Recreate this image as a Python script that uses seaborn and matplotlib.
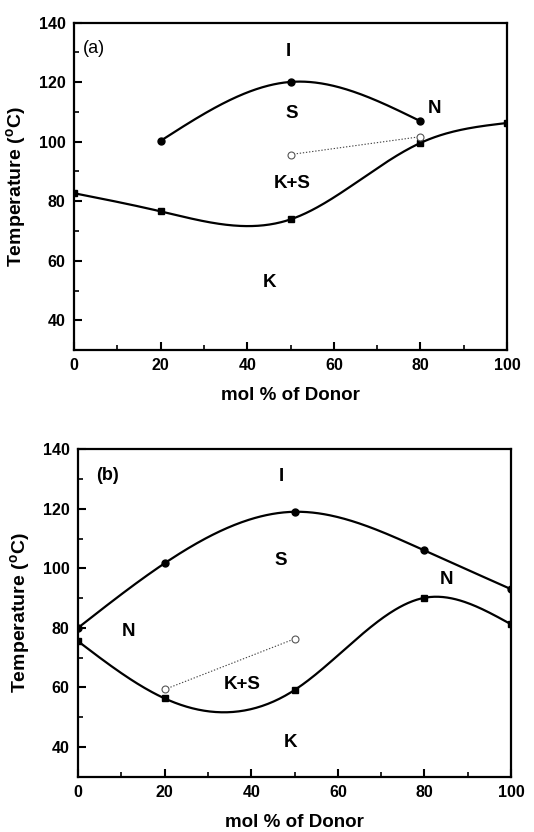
import numpy as np
import pandas as pd
import matplotlib
matplotlib.use("Agg")
import matplotlib.pyplot as plt
from matplotlib.ticker import MultipleLocator
import seaborn as sns

# ---- phase boundary data (mol % of donor vs temperature in degC) ----
a_upper_x = [20, 50, 80]
a_upper_t = [100.3, 120.1, 106.9]
a_lower_x = [0, 20, 50, 80, 100]
a_lower_t = [82.7, 76.6, 73.9, 99.6, 106.3]
a_open_x = [50, 80]
a_open_t = [95.7, 101.7]

b_upper_x = [0, 20, 50, 80, 100]
b_upper_t = [80.0, 101.7, 119.0, 106.0, 93.0]
b_lower_x = [0, 20, 50, 80, 100]
b_lower_t = [75.5, 56.3, 59.1, 90.1, 81.2]
b_open_x = [20, 50]
b_open_t = [59.3, 76.3]

# phase region labels: (text, x, y)
a_labels = [("I", 49.5, 130.2), ("S", 50.3, 109.5), ("N", 83.2, 111.1),
            ("K+S", 50.4, 86.1), ("K", 45.1, 52.7)]
b_labels = [("I", 47.0, 131.0), ("S", 46.9, 102.5), ("N", 85.1, 96.4),
            ("N", 11.6, 78.9), ("K+S", 38.0, 61.1), ("K", 49.1, 41.5)]

x_ticks = [0, 20, 40, 60, 80, 100]
y_ticks = [40, 60, 80, 100, 120, 140]


def natural_spline(x, y, n=300):
    """Natural cubic spline through the given points."""
    x = np.asarray(x, float)
    y = np.asarray(y, float)
    k = len(x)
    h = np.diff(x)
    A = np.zeros((k, k))
    r = np.zeros(k)
    A[0, 0] = A[-1, -1] = 1.0
    for i in range(1, k - 1):
        A[i, i - 1] = h[i - 1]
        A[i, i] = 2 * (h[i - 1] + h[i])
        A[i, i + 1] = h[i]
        r[i] = 6 * ((y[i + 1] - y[i]) / h[i] - (y[i] - y[i - 1]) / h[i - 1])
    M = np.linalg.solve(A, r)
    xs = np.linspace(x[0], x[-1], n)
    idx = np.clip(np.searchsorted(x, xs) - 1, 0, k - 2)
    x0, x1 = x[idx], x[idx + 1]
    hh = x1 - x0
    ys = (M[idx] * (x1 - xs) ** 3 / (6 * hh) + M[idx + 1] * (xs - x0) ** 3 / (6 * hh)
          + (y[idx] / hh - M[idx] * hh / 6) * (x1 - xs)
          + (y[idx + 1] / hh - M[idx + 1] * hh / 6) * (xs - x0))
    return xs, ys


sns.set_style("ticks")
plt.rcParams["font.family"] = ["Liberation Sans", "DejaVu Sans"]
plt.rcParams["font.weight"] = "bold"
plt.rcParams["text.color"] = "black"
plt.rcParams["axes.labelcolor"] = "black"
plt.rcParams["xtick.color"] = "black"
plt.rcParams["ytick.color"] = "black"

fig = plt.figure(figsize=(5.34, 8.32), dpi=100)
ax_a = fig.add_axes([0.1386, 0.5793, 0.8109, 0.3934])
ax_b = fig.add_axes([0.1461, 0.0665, 0.8109, 0.3935])


def draw_panel(ax, tag, tag_weight, upper, lower, opened, labels):
    for (xs, ts), mk, ms in [(upper, "o", 5), (lower, "s", 4.5)]:
        sx, sy = natural_spline(xs, ts)
        sns.lineplot(x=sx, y=sy, ax=ax, color="black", lw=1.6, sort=False,
                     estimator=None)
        ax.plot(xs, ts, ls="none", marker=mk, ms=ms, color="black")
    ox, ot = opened
    sns.lineplot(x=ox, y=ot, ax=ax, color="#444444", lw=0.8, ls=(0, (1.2, 1.6)),
                 estimator=None)
    ax.plot(ox, ot, ls="none", marker="o", ms=5, mfc="white", mec="#555555", mew=0.8)

    for txt, lx, ly in labels:
        ax.text(lx, ly, txt, ha="center", va="center", fontsize=13.5,
                fontweight="bold")
    ax.text(4.5 if tag == "(a)" else 6.7, 131.2, tag, ha="center", va="center",
            fontsize=13, fontweight=tag_weight)

    ax.set_xlim(0, 100)
    ax.set_ylim(30, 140)
    ax.set_xticks(x_ticks)
    ax.set_yticks(y_ticks)
    ax.xaxis.set_minor_locator(MultipleLocator(10))
    ax.yaxis.set_minor_locator(MultipleLocator(10))
    ax.tick_params(which="major", direction="in", length=6, width=1.5,
                   labelsize=11.5, top=False, right=False, pad=6)
    ax.tick_params(which="minor", direction="in", length=3.5, width=1.2,
                   top=False, right=False)
    for lab in ax.get_xticklabels() + ax.get_yticklabels():
        lab.set_fontweight("bold")
    for sp in ax.spines.values():
        sp.set_visible(True)
        sp.set_linewidth(1.6)
        sp.set_color("black")
    ax.set_xlabel("mol % of Donor", fontsize=13.5, fontweight="bold", labelpad=10)
    ax.set_ylabel("Temperature ($^\\mathregular{o}$C)", fontsize=14,
                  fontweight="bold", labelpad=7)


draw_panel(ax_a, "(a)", "normal", (a_upper_x, a_upper_t), (a_lower_x, a_lower_t),
           (a_open_x, a_open_t), a_labels)
draw_panel(ax_b, "(b)", "bold", (b_upper_x, b_upper_t), (b_lower_x, b_lower_t),
           (b_open_x, b_open_t), b_labels)

fig.savefig("out.png", dpi=100)
